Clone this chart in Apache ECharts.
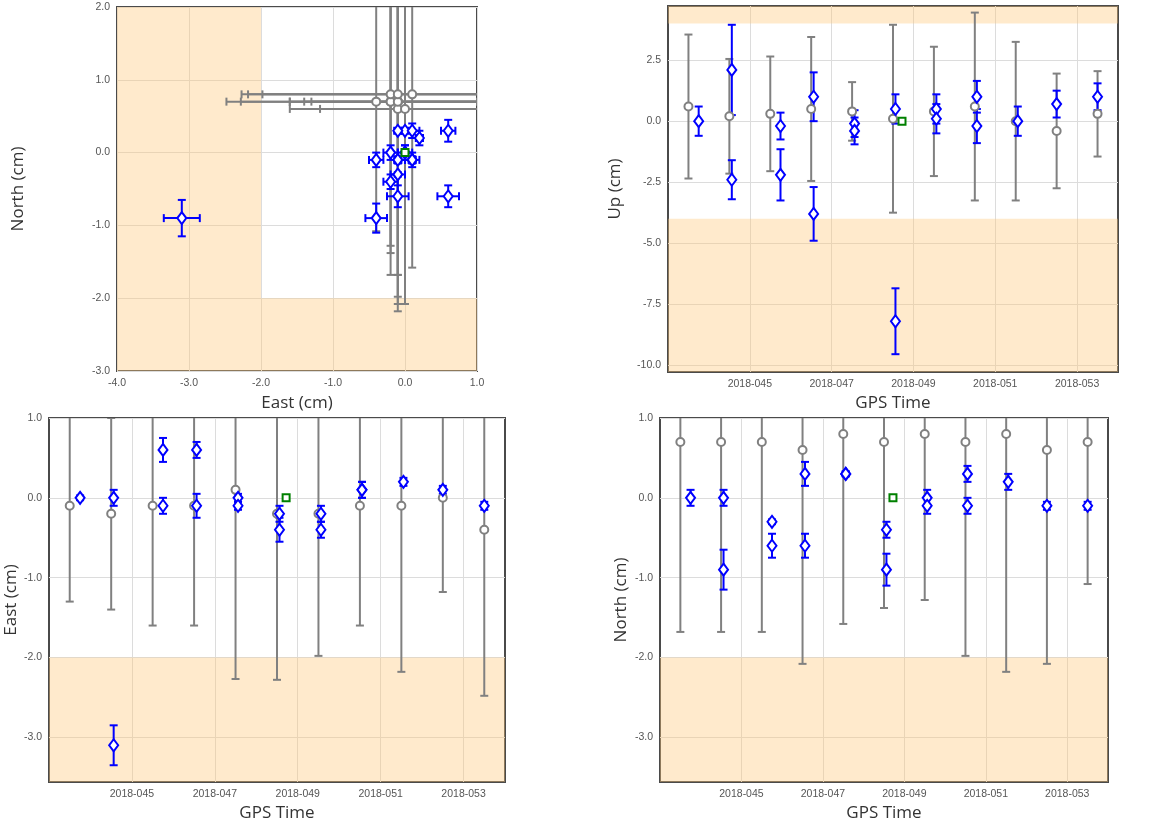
<!DOCTYPE html>
<html><head><meta charset="utf-8">
<script src="https://cdn.jsdelivr.net/npm/echarts@6/dist/echarts.min.js"></script>
<style>html,body{margin:0;padding:0;background:#fff}#c{width:1157px;height:823px}</style>
</head><body><div id="c"></div>
<script>
// ---- data (time = day of year 2018) ----
const timeTicks = [45, 47, 49, 51, 53];
const timeRange = [43, 54];
const enTicks = [-3, -2, -1, 0, 1];
const enRange = [-3.56, 1.0];
const upTicks = [-10, -7.5, -5, -2.5, 0, 2.5];
const upRange = [-10.28, 4.72];
const scatterXRange = [-4, 1];
const scatterYRange = [-3, 2];
const scatterBand = -2;        // East < -2 and North < -2 shaded
const upBand = [-4, 4];        // Up outside [-4,4] shaded
const enBand = -2;             // East/North < -2 shaded

const grayT    = [43.5, 44.5, 45.5, 46.5, 47.5, 48.5, 49.5, 50.5, 51.5, 52.5, 53.5];
const grayE    = [-0.1, -0.2, -0.1, -0.1, 0.1, -0.2, -0.2, -0.1, -0.1, 0.0, -0.4];
const grayEErr = [1.2, 1.2, 1.5, 1.5, 2.37, 2.08, 1.78, 1.5, 2.08, 1.18, 2.08];
const grayN    = [0.7, 0.7, 0.7, 0.6, 0.8, 0.7, 0.8, 0.7, 0.8, 0.6, 0.7];
const grayNErr = [2.38, 2.38, 2.38, 2.68, 2.38, 2.08, 2.08, 2.68, 2.98, 2.68, 1.78];
const grayU    = [0.6, 0.2, 0.3, 0.5, 0.4, 0.1, 0.4, 0.6, 0.0, -0.4, 0.3];
const grayUErr = [2.95, 2.35, 2.35, 2.95, 1.2, 3.85, 2.65, 3.85, 3.25, 2.35, 1.75];

const blueT    = [43.75, 44.56, 44.56, 45.75, 45.75, 46.56, 46.56, 47.56, 47.56, 48.56, 48.56, 49.56, 49.56, 50.55, 50.55, 51.55, 52.5, 53.5];
const blueE    = [0, 0, -3.1, 0.6, -0.1, 0.6, -0.1, 0, -0.1, -0.2, -0.4, -0.2, -0.4, 0.1, 0.1, 0.2, 0.1, -0.1];
const blueEErr = [0.03, 0.1, 0.25, 0.15, 0.1, 0.1, 0.15, 0.05, 0.05, 0.1, 0.15, 0.1, 0.1, 0.1, 0.1, 0.05, 0.05, 0.05];
const blueN    = [0, 0, -0.9, -0.6, -0.3, 0.3, -0.6, 0.3, 0.3, -0.4, -0.9, 0, -0.1, 0.3, -0.1, 0.2, -0.1, -0.1];
const blueNErr = [0.1, 0.1, 0.25, 0.15, 0.03, 0.15, 0.15, 0.03, 0.03, 0.1, 0.2, 0.1, 0.1, 0.1, 0.1, 0.1, 0.05, 0.05];
const blueU    = [0, 2.1, -2.4, -0.2, -2.2, 1.0, -3.8, -0.1, -0.4, 0.5, -8.2, 0.5, 0.1, 1.0, -0.2, 0, 0.7, 1.0];
const blueUErr = [0.6, 1.85, 0.8, 0.55, 1.05, 1.0, 1.1, 0.55, 0.55, 0.6, 1.35, 0.6, 0.6, 0.65, 0.7, 0.6, 0.55, 0.55];

const refT = [48.72], refE = [0], refN = [0], refU = [0];

// ---- styling ----
const GRAY = '#808080', BLUE = '#0000ff', GREEN = '#008000';
const BAND = 'rgba(255,200,120,0.38)';
const LABEL = {color: '#555', fontSize: 10.5, fontFamily: 'Liberation Sans'};
const NAME = {color: '#333', fontSize: 17, fontFamily: 'Open Sans'};
const SPLIT = {show: true, lineStyle: {color: '#dcdcdc', width: 1}};

function zip() { const a = arguments; return a[0].map((_, i) => Array.from(a).map(arr => arr[i])); }

function vBar(color, cap) {
  return function (params, api) {
    const x = api.value(0), y = api.value(1), e = api.value(2);
    const p1 = api.coord([x, y + e]), p2 = api.coord([x, y - e]);
    const s = {stroke: color, lineWidth: 2};
    return {type: 'group', children: [
      {type: 'line', shape: {x1: p1[0], y1: p1[1], x2: p2[0], y2: p2[1]}, style: s},
      {type: 'line', shape: {x1: p1[0] - cap, y1: p1[1], x2: p1[0] + cap, y2: p1[1]}, style: s},
      {type: 'line', shape: {x1: p2[0] - cap, y1: p2[1], x2: p2[0] + cap, y2: p2[1]}, style: s}
    ]};
  };
}
function xyBar(color, cap) {
  return function (params, api) {
    const x = api.value(0), y = api.value(1), ex = api.value(2), ey = api.value(3);
    const t = api.coord([x, y + ey]), b = api.coord([x, y - ey]);
    const l = api.coord([x - ex, y]), r = api.coord([x + ex, y]);
    const s = {stroke: color, lineWidth: 2};
    return {type: 'group', children: [
      {type: 'line', shape: {x1: t[0], y1: t[1], x2: b[0], y2: b[1]}, style: s},
      {type: 'line', shape: {x1: t[0] - cap, y1: t[1], x2: t[0] + cap, y2: t[1]}, style: s},
      {type: 'line', shape: {x1: b[0] - cap, y1: b[1], x2: b[0] + cap, y2: b[1]}, style: s},
      {type: 'line', shape: {x1: l[0], y1: l[1], x2: r[0], y2: r[1]}, style: s},
      {type: 'line', shape: {x1: l[0], y1: l[1] - cap, x2: l[0], y2: l[1] + cap}, style: s},
      {type: 'line', shape: {x1: r[0], y1: r[1] - cap, x2: r[0], y2: r[1] + cap}, style: s}
    ]};
  };
}

const grayCircle = {symbol: 'circle', symbolSize: 8, itemStyle: {color: '#fff', borderColor: GRAY, borderWidth: 2, opacity: 1}};
const blueDiamond = {symbol: 'diamond', symbolSize: [9, 12], itemStyle: {color: '#fff', borderColor: BLUE, borderWidth: 2, opacity: 1}};
const greenSquare = {symbol: 'rect', symbolSize: 7, itemStyle: {color: '#fff', borderColor: GREEN, borderWidth: 2, opacity: 1}};

function timeAxis(gi) {
  return {type: 'value', gridIndex: gi, min: timeRange[0], max: timeRange[1],
    name: 'GPS Time', nameLocation: 'middle', nameGap: 23, nameTextStyle: NAME,
    axisLine: {show: false}, axisTick: {show: false, customValues: timeTicks},
    axisLabel: Object.assign({customValues: timeTicks, margin: 7,
      formatter: v => '2018-' + String(Math.round(v)).padStart(3, '0')}, LABEL),
    splitLine: SPLIT};
}
function valAxis(gi, range, ticks, name, gap) {
  return {type: 'value', gridIndex: gi, min: range[0], max: range[1],
    name: name, nameLocation: 'middle', nameGap: gap, nameTextStyle: NAME,
    axisLine: {show: false}, axisTick: {show: false, customValues: ticks},
    axisLabel: Object.assign({customValues: ticks, margin: 7, formatter: v => v.toFixed(1)}, LABEL),
    splitLine: SPLIT};
}

const gridBase = {show: true, borderColor: '#4a4a4a', borderWidth: 2, backgroundColor: '#fff', containLabel: false};

const option = {
  animation: false,
  backgroundColor: '#fff',
  grid: [
    Object.assign({left: 117, top: 7, width: 360, height: 364}, gridBase),
    Object.assign({left: 668, top: 6, width: 450, height: 366}, gridBase),
    Object.assign({left: 49, top: 418, width: 456, height: 365}, gridBase),
    Object.assign({left: 660, top: 418, width: 448, height: 365}, gridBase)
  ],
  xAxis: [
    valAxis(0, scatterXRange, [-4, -3, -2, -1, 0, 1], 'East (cm)', 24),
    timeAxis(1), timeAxis(2), timeAxis(3)
  ],
  yAxis: [
    valAxis(0, scatterYRange, [-3, -2, -1, 0, 1, 2], 'North (cm)', 90),
    valAxis(1, upRange, upTicks, 'Up (cm)', 44),
    valAxis(2, enRange, enTicks, 'East (cm)', 21),
    valAxis(3, enRange, enTicks, 'North (cm)', 30)
  ],
  series: [
    // ---- panel 0: East vs North ----
    {type: 'custom', xAxisIndex: 0, yAxisIndex: 0, clip: true, renderItem: xyBar(GRAY, 4),
      data: zip(grayE, grayN, grayEErr, grayNErr), encode: {x: 0, y: 1},
      markArea: {silent: true, itemStyle: {color: BAND}, data: [
        [{xAxis: scatterXRange[0], yAxis: scatterYRange[0]}, {xAxis: scatterBand, yAxis: scatterYRange[1]}],
        [{xAxis: scatterBand, yAxis: scatterYRange[0]}, {xAxis: scatterXRange[1], yAxis: scatterBand}]
      ]}},
    Object.assign({type: 'scatter', xAxisIndex: 0, yAxisIndex: 0, data: zip(grayE, grayN)}, grayCircle),
    {type: 'custom', xAxisIndex: 0, yAxisIndex: 0, clip: true, renderItem: xyBar(BLUE, 4),
      data: zip(blueE, blueN, blueEErr, blueNErr), encode: {x: 0, y: 1}},
    Object.assign({type: 'scatter', xAxisIndex: 0, yAxisIndex: 0, data: zip(blueE, blueN)}, blueDiamond),
    Object.assign({type: 'scatter', xAxisIndex: 0, yAxisIndex: 0, data: zip(refE, refN)}, greenSquare),

    // ---- panel 1: Up ----
    {type: 'custom', xAxisIndex: 1, yAxisIndex: 1, clip: true, renderItem: vBar(GRAY, 4),
      data: zip(grayT, grayU, grayUErr), encode: {x: 0, y: 1},
      markArea: {silent: true, itemStyle: {color: BAND}, data: [
        [{yAxis: upBand[1]}, {yAxis: upRange[1]}],
        [{yAxis: upRange[0]}, {yAxis: upBand[0]}]
      ]}},
    Object.assign({type: 'scatter', xAxisIndex: 1, yAxisIndex: 1, data: zip(grayT, grayU)}, grayCircle),
    {type: 'custom', xAxisIndex: 1, yAxisIndex: 1, clip: true, renderItem: vBar(BLUE, 4),
      data: zip(blueT, blueU, blueUErr), encode: {x: 0, y: 1}},
    Object.assign({type: 'scatter', xAxisIndex: 1, yAxisIndex: 1, data: zip(blueT, blueU)}, blueDiamond),
    Object.assign({type: 'scatter', xAxisIndex: 1, yAxisIndex: 1, data: zip(refT, refU)}, greenSquare),

    // ---- panel 2: East vs time ----
    {type: 'custom', xAxisIndex: 2, yAxisIndex: 2, clip: true, renderItem: vBar(GRAY, 4),
      data: zip(grayT, grayE, grayEErr), encode: {x: 0, y: 1},
      markArea: {silent: true, itemStyle: {color: BAND}, data: [
        [{yAxis: enRange[0]}, {yAxis: enBand}]
      ]}},
    Object.assign({type: 'scatter', xAxisIndex: 2, yAxisIndex: 2, data: zip(grayT, grayE)}, grayCircle),
    {type: 'custom', xAxisIndex: 2, yAxisIndex: 2, clip: true, renderItem: vBar(BLUE, 4),
      data: zip(blueT, blueE, blueEErr), encode: {x: 0, y: 1}},
    Object.assign({type: 'scatter', xAxisIndex: 2, yAxisIndex: 2, data: zip(blueT, blueE)}, blueDiamond),
    Object.assign({type: 'scatter', xAxisIndex: 2, yAxisIndex: 2, data: zip(refT, refE)}, greenSquare),

    // ---- panel 3: North vs time ----
    {type: 'custom', xAxisIndex: 3, yAxisIndex: 3, clip: true, renderItem: vBar(GRAY, 4),
      data: zip(grayT, grayN, grayNErr), encode: {x: 0, y: 1},
      markArea: {silent: true, itemStyle: {color: BAND}, data: [
        [{yAxis: enRange[0]}, {yAxis: enBand}]
      ]}},
    Object.assign({type: 'scatter', xAxisIndex: 3, yAxisIndex: 3, data: zip(grayT, grayN)}, grayCircle),
    {type: 'custom', xAxisIndex: 3, yAxisIndex: 3, clip: true, renderItem: vBar(BLUE, 4),
      data: zip(blueT, blueN, blueNErr), encode: {x: 0, y: 1}},
    Object.assign({type: 'scatter', xAxisIndex: 3, yAxisIndex: 3, data: zip(blueT, blueN)}, blueDiamond),
    Object.assign({type: 'scatter', xAxisIndex: 3, yAxisIndex: 3, data: zip(refT, refN)}, greenSquare)
  ]
};

const chart = echarts.init(document.getElementById('c'), null, {renderer: 'canvas'});
chart.setOption(option);
</script>
</body></html>
